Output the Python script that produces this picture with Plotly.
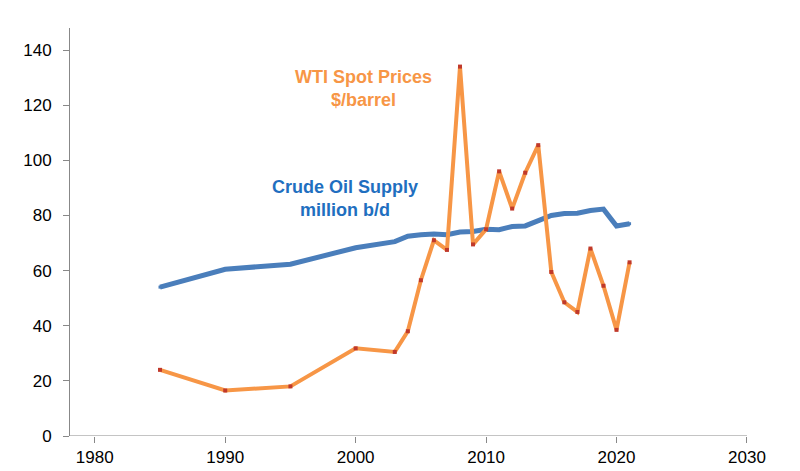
import plotly.graph_objects as go

# 年份
years = [1985, 1990, 1995, 2000, 2003, 2004, 2005, 2006, 2007, 2008, 2009, 2010,
         2011, 2012, 2013, 2014, 2015, 2016, 2017, 2018, 2019, 2020, 2021]
# WTI 现货价格 ($/barrel)
wti_price = [24, 16.5, 18, 31.8, 30.5, 38, 56.5, 71, 67.5, 134, 69.5, 75,
             96, 82.5, 95.5, 105.5, 59.5, 48.5, 45, 68, 54.5, 38.5, 63]
# 原油供应 (million b/d)
oil_supply = [54, 60.5, 62.3, 68.3, 70.5, 72.5, 73, 73.3, 73, 74, 74.2, 75,
              74.8, 76, 76.2, 78, 80, 80.7, 80.8, 81.8, 82.3, 76.2, 77]

fig = go.Figure()
fig.add_trace(go.Scatter(
    x=years, y=oil_supply, mode="lines+markers",
    line=dict(color="#4a7ebb", width=5),
    marker=dict(size=3, color="#4a7ebb", symbol="square"),
))
fig.add_trace(go.Scatter(
    x=years, y=wti_price, mode="lines+markers",
    line=dict(color="#f79646", width=4),
    marker=dict(size=4, color="#c0392b", symbol="square"),
))

# 注释文字
fig.add_annotation(x=1999.2, y=86, text="<b>Crude Oil Supply<br>million b/d</b>",
                   showarrow=False, align="center",
                   font=dict(color="#1f6fc0", size=18))
fig.add_annotation(x=2000.6, y=126, text="<b>WTI Spot Prices<br>$/barrel</b>",
                   showarrow=False, align="center",
                   font=dict(color="#f79646", size=18))

# 设置坐标轴与布局
fig.update_layout(
    width=800, height=471, showlegend=False,
    plot_bgcolor="white", paper_bgcolor="white",
    margin=dict(l=62, r=48, t=20, b=36),
    font=dict(family="Liberation Sans, Arial", size=17, color="black"),
    xaxis=dict(range=[1978.1, 2031], tickvals=[1980, 1990, 2000, 2010, 2020, 2030],
               showgrid=False, zeroline=False, showline=False,
               ticks="outside", ticklen=6, tickcolor="#888"),
    yaxis=dict(range=[0, 148], tickvals=[0, 20, 40, 60, 80, 100, 120, 140],
               showgrid=False, zeroline=False, showline=True, linecolor="#888",
               ticks="outside", ticklen=6, tickcolor="#888", ticklabelstandoff=8),
)
fig.add_shape(type="line", xref="x", x0=1978.1, x1=2030, yref="y", y0=0, y1=0,
              line=dict(color="#888", width=1))

fig.write_html("out.html")
